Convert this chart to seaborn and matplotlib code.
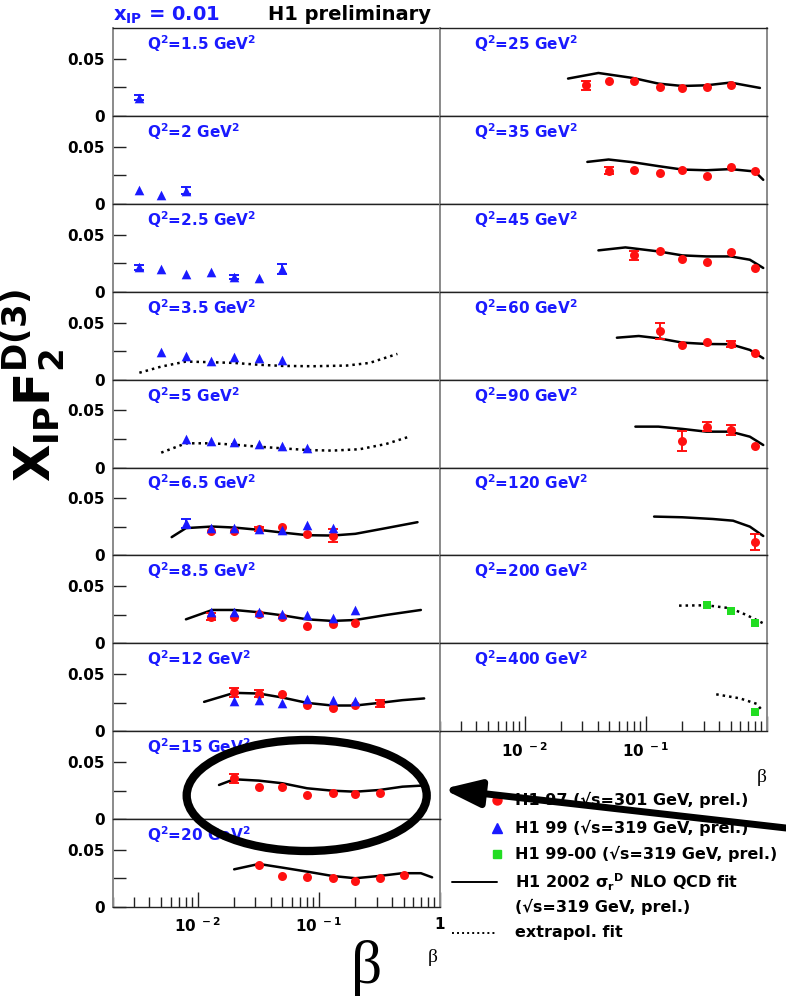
import numpy as np
import pandas as pd
import matplotlib
matplotlib.use('Agg')
import matplotlib.pyplot as plt
import seaborn as sns
from matplotlib.patches import Ellipse, FancyArrowPatch
from matplotlib.lines import Line2D
from matplotlib.ticker import FixedLocator, LogLocator, NullFormatter

sns.set_style('white')
plt.rcParams['font.family'] = ['DejaVu Sans']
plt.rcParams['font.weight'] = 'bold'
plt.rcParams['mathtext.fontset'] = 'dejavusans'
plt.rcParams['text.color'] = 'black'
plt.rcParams['axes.labelcolor'] = 'black'
plt.rcParams['xtick.color'] = 'black'
plt.rcParams['ytick.color'] = 'black'

# ---------------- data ----------------
q2_left = [1.5, 2, 2.5, 3.5, 5, 6.5, 8.5, 12, 15, 20]
q2_right = [25, 35, 45, 60, 90, 120, 200, 400]

# H1 99 (blue triangles): Q2 -> (beta, value, error)
h1_99 = {
    1.5: ([0.0033], [0.016], [0.002]),
    2: ([0.0033, 0.005, 0.008], [0.0123, 0.0079, 0.0114], [0, 0, 0.003]),
    2.5: ([0.0033, 0.005, 0.008, 0.013, 0.02, 0.032, 0.05],
          [0.0213, 0.0202, 0.0158, 0.0173, 0.0129, 0.012, 0.0199],
          [0.002, 0, 0, 0, 0.002, 0, 0.004]),
    3.5: ([0.005, 0.008, 0.013, 0.02, 0.032, 0.05],
          [0.024, 0.0204, 0.0167, 0.0196, 0.019, 0.0175], [0, 0, 0, 0, 0, 0]),
    5: ([0.008, 0.013, 0.02, 0.032, 0.05, 0.08],
        [0.0248, 0.0233, 0.0225, 0.021, 0.019, 0.0175], [0, 0, 0, 0, 0, 0]),
    6.5: ([0.008, 0.013, 0.02, 0.032, 0.05, 0.08, 0.13],
          [0.0282, 0.0239, 0.0239, 0.0232, 0.0224, 0.0268, 0.0244],
          [0.004, 0, 0, 0, 0, 0, 0]),
    8.5: ([0.013, 0.02, 0.032, 0.05, 0.08, 0.13, 0.2],
          [0.0277, 0.0272, 0.0277, 0.0254, 0.0248, 0.0225, 0.0292],
          [0, 0, 0, 0, 0, 0, 0]),
    12: ([0.02, 0.032, 0.05, 0.08, 0.13, 0.2],
         [0.0266, 0.0272, 0.0248, 0.0278, 0.0272, 0.0263], [0, 0, 0, 0, 0, 0]),
}

# H1 97 (red circles)
h1_97 = {
    6.5: ([0.013, 0.02, 0.032, 0.05, 0.08, 0.13],
          [0.0215, 0.0215, 0.023, 0.0253, 0.0186, 0.0174],
          [0, 0, 0.002, 0, 0, 0.006]),
    8.5: ([0.013, 0.02, 0.032, 0.05, 0.08, 0.13, 0.2],
          [0.0233, 0.0233, 0.0257, 0.0228, 0.0152, 0.0171, 0.0182],
          [0.003, 0, 0, 0, 0, 0, 0]),
    12: ([0.02, 0.032, 0.05, 0.08, 0.13, 0.2, 0.32],
         [0.034, 0.033, 0.0325, 0.0226, 0.020, 0.0228, 0.0243],
         [0.004, 0.003, 0, 0, 0, 0, 0.003]),
    15: ([0.02, 0.032, 0.05, 0.08, 0.13, 0.2, 0.32],
         [0.0357, 0.0284, 0.0279, 0.0211, 0.0232, 0.022, 0.0226],
         [0.004, 0, 0, 0, 0, 0, 0]),
    20: ([0.032, 0.05, 0.08, 0.13, 0.2, 0.32, 0.5],
         [0.0368, 0.0272, 0.026, 0.0254, 0.0231, 0.0257, 0.0278],
         [0, 0, 0, 0, 0, 0, 0]),
    25: ([0.032, 0.05, 0.08, 0.13, 0.2, 0.32, 0.5],
         [0.0268, 0.0303, 0.0303, 0.0254, 0.0248, 0.0254, 0.0274],
         [0.004, 0, 0, 0, 0, 0, 0]),
    35: ([0.05, 0.08, 0.13, 0.2, 0.32, 0.5, 0.8],
         [0.029, 0.0292, 0.0269, 0.0298, 0.024, 0.0318, 0.0283],
         [0.003, 0, 0, 0, 0, 0, 0]),
    45: ([0.08, 0.13, 0.2, 0.32, 0.5, 0.8],
         [0.0318, 0.036, 0.0287, 0.026, 0.0345, 0.021],
         [0.004, 0, 0, 0, 0, 0]),
    60: ([0.13, 0.2, 0.32, 0.5, 0.8],
         [0.0426, 0.0303, 0.0332, 0.0312, 0.0236],
         [0.007, 0, 0, 0.003, 0]),
    90: ([0.2, 0.32, 0.5, 0.8], [0.0232, 0.0358, 0.0329, 0.0189],
         [0.009, 0.004, 0.004, 0]),
    120: ([0.8], [0.012], [0.007]),
}

# H1 99-00 (green squares)
h1_9900 = {
    200: ([0.32, 0.5, 0.8], [0.0333, 0.0283, 0.0175], [0, 0, 0]),
    400: ([0.8], [0.017], [0]),
}

# H1 2002 NLO QCD fit (solid)
fit = {
    6.5: ([0.0061, 0.008, 0.0132, 0.02, 0.032, 0.05, 0.08, 0.129, 0.2, 0.359, 0.652],
          [0.016, 0.0239, 0.0253, 0.0244, 0.0224, 0.020, 0.0177, 0.0174, 0.0189, 0.0239, 0.0291]),
    8.5: ([0.008, 0.0132, 0.02, 0.032, 0.05, 0.08, 0.129, 0.2, 0.359, 0.695],
          [0.021, 0.0292, 0.0292, 0.0272, 0.0245, 0.021, 0.0196, 0.0204, 0.0248, 0.0292]),
    12: ([0.0113, 0.02, 0.032, 0.05, 0.08, 0.129, 0.2, 0.316, 0.49, 0.74],
         [0.0257, 0.0336, 0.033, 0.0295, 0.0248, 0.0225, 0.0225, 0.0248, 0.0272, 0.0287]),
    15: ([0.015, 0.02, 0.032, 0.05, 0.08, 0.129, 0.2, 0.316, 0.49, 0.695],
         [0.0299, 0.0349, 0.0337, 0.0314, 0.027, 0.0249, 0.024, 0.0255, 0.0284, 0.0293]),
    20: ([0.02, 0.032, 0.05, 0.08, 0.129, 0.2, 0.316, 0.49, 0.695, 0.86],
         [0.033, 0.0377, 0.0345, 0.031, 0.0272, 0.0252, 0.0272, 0.0296, 0.0296, 0.026]),
    25: ([0.0228, 0.0406, 0.0784, 0.127, 0.2, 0.316, 0.5, 0.874],
         [0.0327, 0.0376, 0.0332, 0.0283, 0.0262, 0.0268, 0.0292, 0.0245]),
    35: ([0.0329, 0.0492, 0.0784, 0.127, 0.2, 0.316, 0.5, 0.794, 0.931],
         [0.0367, 0.0388, 0.0364, 0.033, 0.03, 0.0294, 0.0304, 0.0283, 0.021]),
    45: ([0.0406, 0.0678, 0.127, 0.2, 0.316, 0.5, 0.722, 0.931],
         [0.0362, 0.0388, 0.0353, 0.0318, 0.0309, 0.0309, 0.028, 0.0208]),
    60: ([0.0577, 0.0874, 0.127, 0.2, 0.316, 0.5, 0.722, 0.931],
         [0.0367, 0.0382, 0.0362, 0.0324, 0.0312, 0.031, 0.026, 0.0187]),
    90: ([0.082, 0.127, 0.2, 0.316, 0.5, 0.722, 0.931],
         [0.0358, 0.0358, 0.0338, 0.0314, 0.0314, 0.027, 0.0197]),
    120: ([0.117, 0.2, 0.357, 0.525, 0.722, 0.931],
          [0.034, 0.0334, 0.0319, 0.0304, 0.0252, 0.017]),
}

# extrapolated fit (dotted)
extrap = {
    3.5: ([0.0033, 0.005, 0.008, 0.0132, 0.02, 0.032, 0.05, 0.0893, 0.17, 0.262, 0.445],
          [0.006, 0.0114, 0.0158, 0.0152, 0.0146, 0.013, 0.012, 0.0117, 0.0123, 0.0146, 0.0225]),
    5: ([0.005, 0.008, 0.0132, 0.02, 0.032, 0.05, 0.08, 0.129, 0.217, 0.359, 0.557],
        [0.013, 0.0212, 0.0212, 0.020, 0.0182, 0.0168, 0.0153, 0.0148, 0.016, 0.0206, 0.027]),
    200: ([0.188, 0.316, 0.5, 0.677, 0.931], [0.033, 0.0333, 0.0307, 0.0248, 0.0175]),
    400: ([0.381, 0.596, 0.82, 0.931], [0.0323, 0.0288, 0.024, 0.017]),
}

legend_labels = ['H1 97 (\u221as=301 GeV, prel.)',
                 'H1 99 (\u221as=319 GeV, prel.)',
                 'H1 99-00 (\u221as=319 GeV, prel.)',
                 r'H1 2002 $\mathbf{\sigma_r{}^D}$ NLO QCD fit',
                 '(\u221as=319 GeV, prel.)',
                 'extrapol. fit']

# ---------------- style ----------------
W, H = 786, 1001
RED = '#ff1010'
BLUE = '#1a1aff'
GREEN = '#22dd22'
TOP0, ROWH = 28, 87.9
COLX, COLW = [113, 440], 327
YMAX = 0.077

fig = plt.figure(figsize=(W / 100, H / 100), dpi=100)
fig.patch.set_facecolor('white')


def make_ax(col, row):
    x0 = COLX[col] / W
    y0 = 1 - (TOP0 + (row + 1) * ROWH) / H
    ax = fig.add_axes([x0, y0, COLW / W, ROWH / H])
    ax.set_facecolor('white')
    ax.set_xscale('log')
    ax.set_xlim(0.002, 1.0)
    ax.set_ylim(0, YMAX)
    for s in ['left', 'right']:
        ax.spines[s].set_color('#8a8a8a')
        ax.spines[s].set_linewidth(1.4)
    for s in ['top', 'bottom']:
        ax.spines[s].set_color('#222222')
        ax.spines[s].set_linewidth(1.0)
    return ax


def draw_points(ax, data, q2, color, marker, size):
    if q2 not in data:
        return
    b, v, e = data[q2]
    df = pd.DataFrame({'beta': b, 'val': v, 'err': e})
    de = df[df['err'] > 0]
    if len(de):
        ax.errorbar(de['beta'], de['val'], yerr=de['err'], fmt='none',
                    ecolor=color, elinewidth=1.4, capsize=3.5, capthick=1.4, zorder=3)
    sns.scatterplot(data=df, x='beta', y='val', ax=ax, color=color, marker=marker,
                    s=size, linewidth=0, zorder=4, legend=False)


def draw_curve(ax, data, q2, ls):
    if q2 not in data:
        return
    b, v = data[q2]
    df = pd.DataFrame({'beta': b, 'val': v})
    sns.lineplot(data=df, x='beta', y='val', ax=ax, color='black', lw=1.8,
                 estimator=None, sort=False, linestyle=ls, zorder=2)


def setup_panel(ax, q2, col, bottom):
    draw_curve(ax, fit, q2, '-')
    draw_curve(ax, extrap, q2, (0, (1, 1.6)))
    draw_points(ax, h1_97, q2, RED, 'o', 42)
    draw_points(ax, h1_99, q2, BLUE, '^', 48)
    draw_points(ax, h1_9900, q2, GREEN, 's', 36)
    ax.set_xlabel('')
    ax.set_ylabel('')
    lab = (r'$\mathbf{Q^{2}}$=' + ('%g' % q2) + r' GeV$\mathbf{^{2}}$')
    ax.text(0.104, 0.75, lab, transform=ax.transAxes, color=BLUE,
            fontsize=11, fontweight='bold', ha='left', va='baseline')
    if col == 0:
        ax.yaxis.set_major_locator(FixedLocator([0, 0.025, 0.05]))
        ax.set_yticklabels(['0', '', '0.05'])
        ax.tick_params(axis='y', which='both', direction='in', length=9.5,
                       width=1.0, color='#222222', pad=6, labelsize=11,
                       labelcolor='black', left=True, labelleft=True)
    else:
        ax.tick_params(axis='y', which='both', left=False, labelleft=False)
    if bottom:
        ax.xaxis.set_major_locator(FixedLocator([0.01, 0.1, 1.0]))
        ax.xaxis.set_minor_locator(LogLocator(base=10, subs=np.arange(2, 10)))
        ax.xaxis.set_minor_formatter(NullFormatter())
        if col == 0:
            ax.set_xticklabels([r'$\mathbf{10^{\ -2}}$', r'$\mathbf{10^{\ -1}}$', '1'])
        else:
            ax.set_xticklabels([r'$\mathbf{10^{\ -2}}$', r'$\mathbf{10^{\ -1}}$', ''])
        ax.tick_params(axis='x', which='major', direction='in', length=11,
                       width=1.0, color='#222222', pad=7, labelsize=11,
                       labelcolor='black', bottom=True)
        ax.tick_params(axis='x', which='minor', direction='in', length=7,
                       width=1.0, color='#222222', bottom=True)
    else:
        ax.tick_params(axis='x', which='both', bottom=False, labelbottom=False)


for i, q2 in enumerate(q2_left):
    ax = make_ax(0, i)
    setup_panel(ax, q2, 0, i == len(q2_left) - 1)
for i, q2 in enumerate(q2_right):
    ax = make_ax(1, i)
    setup_panel(ax, q2, 1, i == len(q2_right) - 1)

# ---------------- titles & labels ----------------
fig.text(113 / W, 1 - 15 / H, r'$\mathbf{x_{IP}}$ = 0.01', color=BLUE, fontsize=14,
         fontweight='bold', ha='left', va='center')
fig.text(268 / W, 1 - 14 / H, 'H1 preliminary', color='black', fontsize=14,
         fontweight='bold', ha='left', va='center')
fig.text(33 / W, 1 - 386 / H, r'$\mathbf{X_{IP}F_{2}^{D(3)}}$', rotation=90,
         fontsize=35, color='black', ha='center', va='center')
fig.text(367 / W, 1 - 968 / H, '\u03b2', family='Liberation Serif', fontweight='normal',
         fontsize=44, color='black', ha='center', va='center')
fig.text(433 / W, 1 - 958 / H, '\u03b2', family='Liberation Serif', fontweight='normal',
         fontsize=14, color='black', ha='center', va='center')
fig.text(762 / W, 1 - 778 / H, '\u03b2', family='Liberation Serif', fontweight='normal',
         fontsize=14, color='black', ha='center', va='center')

# ---------------- legend (drawn by hand, ROOT style) ----------------
rows_y = [800, 828, 854, 882, 907, 933]
handles = [('o', RED, 42), ('^', BLUE, 48), ('s', GREEN, 36), ('-', None, None),
           (None, None, None), (':', None, None)]
for (kind, col, sz), y, lab in zip(handles, rows_y, legend_labels):
    yf = 1 - y / H
    if kind in ('o', '^', 's'):
        fig.add_artist(Line2D([497 / W], [yf], transform=fig.transFigure, marker=kind,
                              color=col, markersize=np.sqrt(sz), ls='none'))
    elif kind == '-':
        fig.add_artist(Line2D([452 / W, 497 / W], [yf, yf], transform=fig.transFigure,
                              color='black', lw=1.4))
    elif kind == ':':
        fig.add_artist(Line2D([452 / W, 497 / W], [yf, yf], transform=fig.transFigure,
                              color='black', lw=1.4, ls=(0, (1, 1.6))))
    fig.text(515 / W, yf, lab, fontsize=11.5, fontweight='bold', color='black',
             ha='left', va='center')

# ---------------- hand-drawn annotation: ellipse and arrow ----------------
fig.add_artist(Ellipse((306.7 / W, 1 - 795.5 / H), 240 / W, 111 / H,
                       transform=fig.transFigure, fill=False, lw=6, color='black',
                       zorder=10))
fig.add_artist(FancyArrowPatch((1.0, 1 - 828 / H), (443 / W, 1 - 789 / H),
                               transform=fig.transFigure,
                               arrowstyle='-|>,head_length=2.2,head_width=0.8',
                               mutation_scale=10, lw=5, color='black', zorder=10,
                               shrinkA=0, shrinkB=0))

fig.savefig('out.png', dpi=100, facecolor='white')
